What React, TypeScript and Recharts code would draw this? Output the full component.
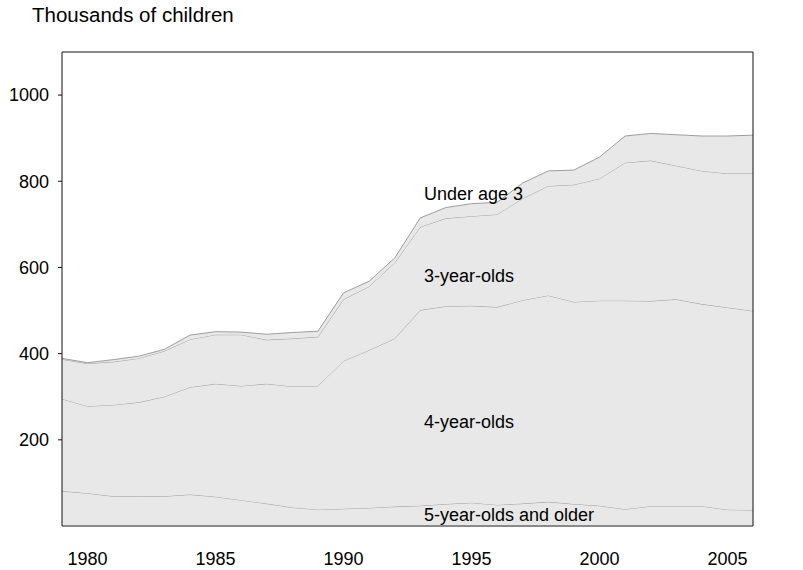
import React from "react";
import {
  AreaChart, Area, XAxis, YAxis, ReferenceLine,
} from "recharts";

const FONT = "'Liberation Sans', Arial, Helvetica, sans-serif";

const years = [
  1979, 1980, 1981, 1982, 1983, 1984, 1985, 1986, 1987, 1988, 1989, 1990, 1991, 1992,
  1993, 1994, 1995, 1996, 1997, 1998, 1999, 2000, 2001, 2002, 2003, 2004, 2005, 2006,
];
// thousands of children, by age group (stacked bottom to top)
const fiveAndOlder = [81, 76, 69, 69, 69, 73, 68, 60, 52, 43, 38, 40, 42, 45, 47, 51, 54, 49, 52, 56, 51, 47, 39, 46, 46, 46, 38, 37];
const fourYearOlds = [214, 202, 212, 218, 231, 249, 262, 265, 278, 281, 287, 343, 366, 390, 454, 459, 457, 459, 472, 479, 469, 476, 484, 476, 480, 469, 469, 462];
const threeYearOlds = [92, 99, 100, 102, 106, 111, 114, 119, 102, 111, 114, 143, 148, 176, 193, 204, 208, 215, 236, 254, 272, 283, 320, 326, 310, 309, 311, 319];
const underThree = [2, 2, 5, 5, 4, 10, 7, 6, 13, 14, 13, 15, 12, 11, 21, 25, 29, 28, 36, 35, 34, 50, 62, 63, 72, 81, 87, 89];

const xTicks = [1980, 1985, 1990, 1995, 2000, 2005];
const yTicks = [200, 400, 600, 800, 1000];

const data = years.map((year, i) => ({
  year,
  five: fiveAndOlder[i],
  four: fourYearOlds[i],
  three: threeYearOlds[i],
  under: underThree[i],
}));

const FILL = "#e8e8e8";
const STROKE = "#9e9e9e";

// text drawn over the chart, on top of the areas
const Labels = () => (
  <svg
    width={803}
    height={570}
    style={{ position: "absolute", left: 0, top: 0, pointerEvents: "none" }}
  >
    <g fontFamily={FONT} fontSize={18} fill="#000">
      <text x={32} y={22} fontSize={20.5}>Thousands of children</text>
      <text x={424} y={200}>Under age 3</text>
      <text x={424} y={282}>3-year-olds</text>
      <text x={424} y={428}>4-year-olds</text>
      <text x={424} y={521}>5-year-olds and older</text>
    </g>
  </svg>
);

export default function App() {
  return (
    <div style={{ position: "absolute", left: 0, top: 0, width: 803, height: 570, background: "#fff" }}>
      <AreaChart
        width={803}
        height={570}
        data={data}
        margin={{ top: 52, right: 0, bottom: 0, left: 0 }}
      >
        <XAxis
          dataKey="year"
          type="number"
          domain={[1979, 2006]}
          ticks={xTicks}
          tickLine={false}
          tickSize={0}
          tickMargin={26}
          height={44}
          axisLine={{ stroke: "#8a8a8a", strokeWidth: 2 }}
          tick={{ fill: "#000", fontSize: 18, fontFamily: FONT }}
        />
        <YAxis
          yAxisId="left"
          domain={[0, 1100]}
          ticks={yTicks}
          width={62}
          tickSize={4}
          tickMargin={9}
          axisLine={{ stroke: "#111" }}
          tickLine={{ stroke: "#111" }}
          tick={{ fill: "#000", fontSize: 18, fontFamily: FONT }}
        />
        <YAxis
          yAxisId="right"
          orientation="right"
          domain={[0, 1100]}
          ticks={yTicks}
          width={50}
          tickSize={7}
          tickMargin={1}
          axisLine={{ stroke: "#111" }}
          tickLine={{ stroke: "#555" }}
          tick={{ fill: "#000", fontSize: 18, fontFamily: FONT }}
        />
        <Area yAxisId="left" type="linear" dataKey="five" stackId="1" stroke={STROKE} fill={FILL} fillOpacity={1} isAnimationActive={false} />
        <Area yAxisId="left" type="linear" dataKey="four" stackId="1" stroke={STROKE} fill={FILL} fillOpacity={1} isAnimationActive={false} />
        <Area yAxisId="left" type="linear" dataKey="three" stackId="1" stroke={STROKE} fill={FILL} fillOpacity={1} isAnimationActive={false} />
        <Area yAxisId="left" type="linear" dataKey="under" stackId="1" stroke={STROKE} fill={FILL} fillOpacity={1} isAnimationActive={false} />
        <ReferenceLine yAxisId="left" y={1100} stroke="#111" />
      </AreaChart>
      <Labels />
    </div>
  );
}
